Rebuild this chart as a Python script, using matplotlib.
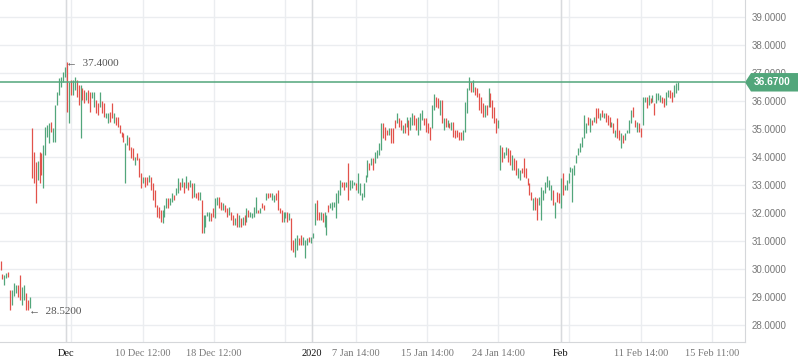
import numpy as np
import matplotlib
matplotlib.use("Agg")
import matplotlib.pyplot as plt
from matplotlib.patches import Polygon
from matplotlib.transforms import blended_transform_factory

# bar open / close values (oldest first)
opens = [
    30.29, 29.82, 29.43, 29.68, 29.89, 29.25, 28.71, 29.04, 29.14, 29.43, 29.79, 28.71, 28.89, 29.14, 28.89, 28.61,
    35.04, 34.18, 33.82, 33.18, 34.18, 34.14, 32.89, 34.07, 34.71, 34.50, 35.25, 34.54, 34.54, 35.86, 36.21, 36.50,
    36.68, 36.86, 37.40, 35.21, 36.75, 36.21, 36.39, 36.75, 36.57, 34.68, 36.46, 36.39, 36.04, 36.39, 36.32, 36.11,
    35.79, 36.04, 35.93, 35.79, 36.00, 35.93, 35.39, 35.21, 35.61, 35.93, 35.21, 35.43, 35.43, 35.14, 34.89, 34.86,
    33.07, 34.43, 34.71, 34.36, 34.32, 33.71, 34.14, 33.96, 33.43, 33.07, 33.29, 33.29, 33.11, 33.29, 33.07, 32.82,
    32.29, 32.21, 32.11, 31.64, 31.86, 32.18, 32.54, 32.29, 32.39, 32.64, 32.64, 32.71, 33.11, 32.93, 33.11, 32.89,
    33.11, 32.93, 33.07, 32.57, 32.71, 32.75, 32.46, 32.46, 31.29, 31.50, 31.89, 31.71, 32.00, 32.18, 31.82, 32.29,
    32.57, 32.39, 32.11, 32.29, 32.18, 31.93, 32.04, 31.93, 31.57, 32.00, 31.50, 31.82, 31.57, 31.93, 31.68, 32.11,
    31.86, 31.82, 31.86, 32.00, 32.11, 32.00, 32.36, 32.29, 32.46, 32.71, 32.71, 32.46, 32.39, 32.71, 32.82, 32.18,
    32.11, 31.68, 31.82, 32.04, 31.75, 31.82, 31.04, 30.43, 30.68, 31.11, 31.21, 30.86, 30.39, 30.86, 31.14, 30.93,
    31.11, 31.57, 32.46, 32.04, 31.75, 32.00, 31.50, 31.21, 32.29, 32.18, 32.11, 32.21, 31.82, 32.36, 32.64, 33.11,
    33.11, 32.93, 33.79, 32.82, 32.89, 33.00, 33.07,
    32.71, 32.64, 32.46, 32.57, 33.11, 33.29, 33.79, 33.71, 33.96, 33.79, 33.96, 34.07, 34.25, 35.21, 35.07, 34.96,
    34.79, 35.04, 35.04, 35.32, 35.21, 35.39, 35.32, 34.86, 35.21, 35.07, 35.32, 34.96, 35.14, 35.50, 35.39, 34.79,
    34.96, 35.32, 35.39, 35.39, 35.21, 35.07, 35.04, 35.68, 36.14, 36.11, 35.50, 36.04, 34.96, 35.39, 35.07, 35.21,
    34.96, 35.25, 34.96, 34.96, 34.89, 34.89, 34.61, 34.89, 35.57, 36.39, 36.68, 36.32, 36.50, 36.46, 36.29, 36.14,
    35.93, 35.43, 35.86, 35.79, 36.29, 36.04, 35.79, 35.39, 35.04, 33.54, 34.36, 33.96, 34.07, 34.32, 34.25, 33.54,
    33.96, 33.89, 33.25, 33.18, 33.61, 33.96, 33.61, 33.25, 33.07, 32.75, 32.11, 32.57, 32.54, 32.29, 31.75, 32.46,
    32.71, 32.93, 32.82, 32.46, 32.82, 31.82, 32.75, 32.71, 32.18, 33.43, 32.82, 32.82, 33.07, 33.46, 32.39, 33.36,
    33.79, 34.07, 34.18, 34.36, 34.68, 34.86, 35.43, 34.89, 35.32, 35.25, 35.75, 35.75, 35.32, 35.68, 35.39, 35.57,
    35.50, 35.43, 35.07, 35.21, 34.71, 35.39, 34.96, 34.32, 34.79, 34.61, 34.86, 34.86, 35.21, 35.79, 35.32, 34.89,
    35.21, 35.04, 35.14, 35.96, 36.14, 35.86, 36.11, 35.96, 35.93, 35.93, 36.04, 35.96, 36.14, 36.11, 35.86, 36.14,
    36.39, 36.32, 36.14, 36.29, 36.39,
]
closes = [
    29.96, 29.64, 29.79, 29.86, 29.71, 28.54, 29.25, 29.50, 29.43, 29.00, 28.89, 29.36, 29.43, 28.54, 28.52, 29.00,
    33.25, 33.07, 32.36, 33.86, 33.07, 33.36, 34.43, 35.07, 35.14, 35.21, 34.89, 35.04, 35.86, 36.32, 36.82, 36.86,
    37.04, 37.21, 35.61, 36.68, 36.21, 36.75, 36.86, 36.14, 35.86, 36.57, 36.04, 35.93, 36.32, 35.93, 35.61, 36.32,
    36.32, 35.57, 35.50, 36.32, 35.57, 35.43, 35.57, 35.57, 35.25, 35.39, 35.57, 35.14, 35.07, 34.86, 34.71, 34.54,
    34.50, 34.79, 34.25, 33.96, 33.89, 34.00, 33.89, 33.29, 32.89, 33.29, 32.93, 33.00, 33.36, 32.82, 32.46, 32.21,
    31.86, 31.82, 31.68, 32.11, 32.29, 32.54, 32.18, 32.54, 32.71, 32.46, 32.89, 33.25, 32.82, 33.25, 32.71, 33.32,
    32.82, 33.18, 32.54, 33.07, 32.54, 32.46, 32.75, 31.29, 31.93, 31.93, 32.04, 32.04, 31.71, 31.86, 32.54, 32.57,
    32.18, 32.11, 32.36, 32.04, 31.86, 32.21, 31.75, 31.57, 31.82, 31.50, 31.93, 31.50, 31.86, 31.57, 32.18, 31.86,
    32.04, 32.00, 32.21, 32.57, 32.00, 32.18, 32.18, 32.11, 32.71, 32.54, 32.57, 32.71, 32.64, 32.46, 32.11, 32.00,
    31.68, 32.04, 32.04, 31.68, 32.00, 30.68, 30.61, 31.11, 31.21, 30.86, 30.86, 31.14, 31.04, 31.11, 30.96, 31.14,
    31.29, 32.36, 31.75, 31.75, 32.04, 31.68, 32.04, 31.93, 32.04, 32.36, 32.39, 32.39, 32.71, 32.82, 33.18, 32.93,
    32.82, 33.11, 32.46, 33.18, 33.18, 33.11, 32.82,
    33.43, 33.07, 32.71, 33.07, 33.36, 33.89, 33.54, 33.96, 33.54, 34.18, 34.25, 34.50, 35.21, 34.68, 34.61, 34.79,
    35.04, 34.50, 34.50, 35.04, 35.57, 35.07, 34.96, 35.14, 34.86, 35.43, 34.79, 35.43, 35.57, 35.14, 34.96, 35.43,
    35.57, 35.68, 35.14, 34.89, 34.86, 34.61, 35.86, 36.25, 35.79, 35.75, 36.04, 35.21, 35.39, 35.07, 35.32, 35.04,
    35.25, 34.71, 34.68, 34.71, 34.61, 34.61, 34.96, 35.96, 36.46, 36.86, 36.32, 36.75, 36.21, 36.14, 35.68, 35.57,
    35.43, 35.86, 35.50, 36.46, 35.79, 35.39, 35.21, 34.86, 35.32, 34.43, 33.82, 34.18, 34.36, 33.82, 33.71, 34.07,
    33.54, 33.36, 33.61, 33.54, 33.43, 33.29, 33.25, 33.00, 32.64, 32.46, 32.54, 32.11, 31.75, 32.57, 32.93, 32.82,
    33.11, 33.32, 33.18, 33.00, 32.29, 32.39, 32.39, 32.36, 33.25, 32.64, 33.00, 33.18, 33.43, 33.64, 33.61, 33.71,
    34.07, 34.32, 34.50, 34.71, 35.50, 35.21, 35.14, 35.39, 35.14, 35.43, 35.21, 35.39, 35.57, 35.43, 35.57, 35.25,
    35.14, 35.07, 35.25, 34.86, 34.96, 34.68, 34.61, 34.86, 34.50, 34.86, 34.96, 35.32, 35.68, 35.43, 35.07, 35.25,
    34.89, 34.71, 36.14, 36.14, 35.75, 36.21, 35.93, 36.21, 35.50, 36.29, 36.29, 36.21, 35.93, 35.79, 36.32, 36.39,
    36.11, 35.96, 36.57, 36.64, 36.67,
]
last_price = 36.67

tick_labels = ["Dec", "10 Dec 12:00", "18 Dec 12:00", "2020", "7 Jan 14:00",
               "15 Jan 14:00", "24 Jan 14:00", "Feb", "11 Feb 14:00", "15 Feb 11:00"]
tick_bars = [33.6, 73.0, 109.4, 159.6, 182.1, 218.5, 254.9, 287.1, 328.1, 364.5]
period_labels = ["Dec", "2020", "Feb"]
extra_grid = [36.1, 145.8, 291.2]

GREEN = "#52a67b"
RED = "#e2524b"
GRID = "#ebedf0"

o = np.array(opens)
c = np.array(closes)
x = np.arange(len(o))
up = c >= o

fig = plt.figure(figsize=(7.98, 3.63), dpi=100)
ax = fig.add_axes([0, 21 / 363, 745 / 798, 342 / 363])

ax.set_xlim(-0.26, 381.4)
ax.set_ylim(27.39, 39.61)

# grid
for yv in range(28, 40):
    ax.axhline(yv, color=GRID, lw=1, zorder=0)
for xv in tick_bars + extra_grid:
    ax.axvline(xv, color=GRID, lw=1, zorder=0)
for lab, xv in zip(tick_labels, tick_bars):
    if lab in period_labels:
        ax.axvline(xv, color="#d8dadd", lw=1, zorder=0)

# bars
ax.vlines(x[up], o[up], c[up], color=GREEN, lw=0.9, zorder=2)
ax.vlines(x[~up], o[~up], c[~up], color=RED, lw=0.9, zorder=2)

# last price line
ax.axhline(last_price, color=GREEN, lw=1.1, zorder=3)

# high / low markers
hi_i = int(np.argmax(np.maximum(o, c)))
lo_i = int(np.argmin(np.minimum(o, c)))
hi_v = max(o[hi_i], c[hi_i])
lo_v = min(o[lo_i], c[lo_i])
fam = ["Liberation Serif", "DejaVu Sans"]
ax.annotate("\u2190  %.4f" % hi_v, xy=(hi_i, hi_v), xytext=(-0.5, -1), textcoords="offset points",
            ha="left", va="center", fontsize=8, color="#555555", family=fam, zorder=4)
ax.annotate("\u2190  %.4f" % lo_v, xy=(lo_i, lo_v), xytext=(0.5, -1), textcoords="offset points",
            ha="left", va="center", fontsize=8, color="#555555", family=fam, zorder=4)

# axes styling
for s in ["top", "left"]:
    ax.spines[s].set_visible(False)
for s in ["right", "bottom"]:
    ax.spines[s].set_color("#d5d7da")
ax.yaxis.tick_right()
ax.set_yticks(range(28, 40))
ax.set_yticklabels(["%.4f" % v for v in range(28, 40)], family="Liberation Sans")
ax.tick_params(axis="y", length=0, pad=4.5, labelsize=7, labelcolor="#777777")
ax.set_xticks(tick_bars)
ax.set_xticklabels(tick_labels, family="Liberation Serif")
ax.tick_params(axis="x", length=0, pad=5, labelsize=7.5, labelcolor="#777777")
for t in ax.get_xticklabels():
    if t.get_text() in period_labels:
        t.set_color("#111111")

# price tag on the right axis
tr = blended_transform_factory(fig.transFigure, ax.transData)
hh = 0.33
tag = Polygon([(745 / 798, last_price), (751 / 798, last_price + hh), (1.0, last_price + hh),
               (1.0, last_price - hh), (751 / 798, last_price - hh)],
              closed=True, transform=tr, facecolor=GREEN, edgecolor="none", clip_on=False, zorder=5)
fig.patches.append(tag)
fig.text(772 / 798, last_price, "%.4f" % last_price, transform=tr, ha="center", va="center",
         fontsize=7.3, color="white", fontweight="bold", family="Liberation Sans", zorder=6)

fig.savefig("out.png", dpi=100)
